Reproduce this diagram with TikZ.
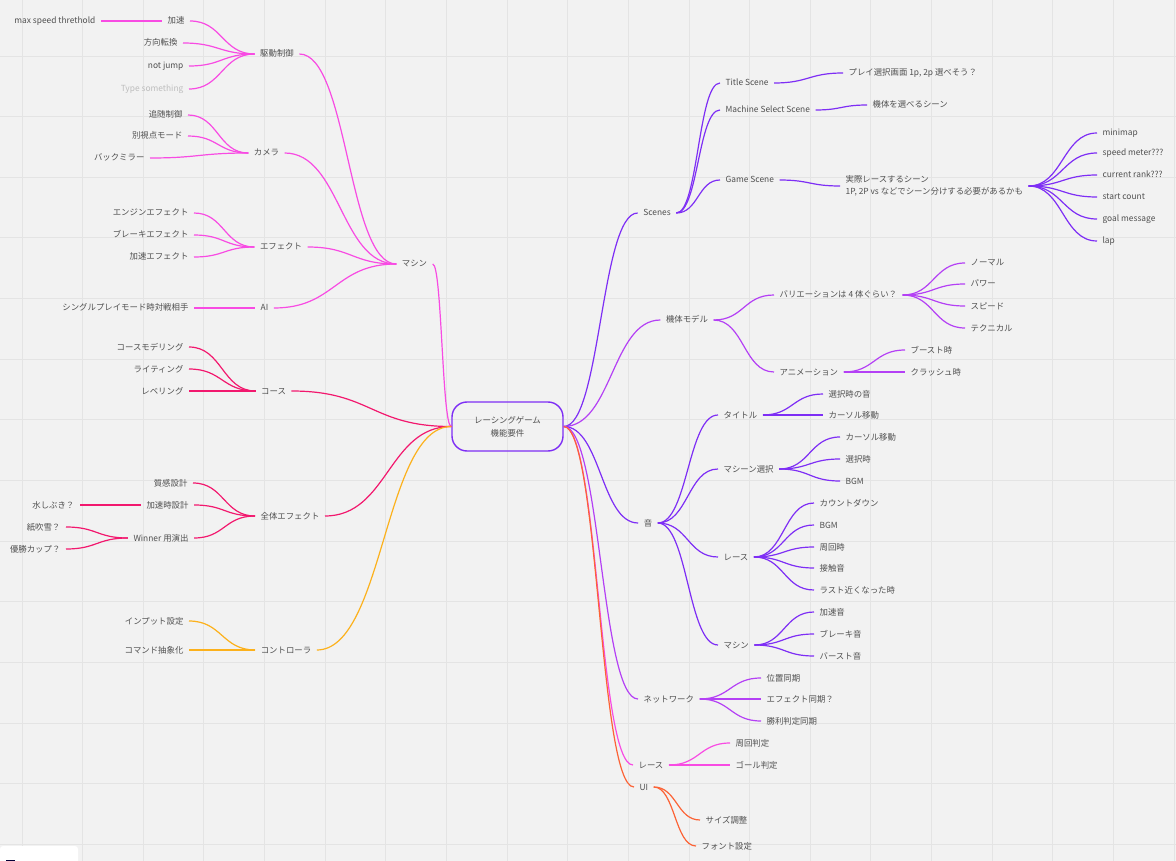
\documentclass[tikz,border=0pt]{standalone}
\usepackage{fontspec}
\setmainfont{Noto Sans CJK JP}
\usetikzlibrary{calc}
\definecolor{bg}{HTML}{F2F2F2}
\definecolor{gridc}{HTML}{E4E4E4}
\definecolor{txt}{HTML}{505050}
\definecolor{ph}{HTML}{BDBDBD}
\definecolor{mag}{HTML}{F84BE3}
\definecolor{crim}{HTML}{F2186E}
\definecolor{orng}{HTML}{FCB11C}
\definecolor{purp}{HTML}{7E2EF5}
\definecolor{viol}{HTML}{B440F5}
\definecolor{ured}{HTML}{FC6336}
\definecolor{navyc}{HTML}{050038}
\newcommand\lk[3]{\draw[#1] let \p1=(#2), \p2=(#3) in (\p1) .. controls ({(\x1+\x2)/2},\y1) and ({(\x1+\x2)/2},\y2) .. (\p2);}
\begin{document}
\begin{tikzpicture}[x=1pt,y=-1pt,line width=1.2pt,
  t/.style={font=\fontsize{8.4}{10}\selectfont, text=txt, inner xsep=5pt, inner ysep=0pt, text height=6.5pt, text depth=0.5pt},
  tm/.style={font=\fontsize{8.4}{12.5}\selectfont, text=txt, inner xsep=5pt, inner ysep=0pt, align=left}]
\useasboundingbox (0,0) rectangle (1176,861);
\fill[bg] (0,0) rectangle (1176,861);
\foreach \i in {0,...,19} \draw[gridc,line width=0.8pt] ({22+60.63*\i},0) -- ({22+60.63*\i},861);
\foreach \i in {0,...,13} \draw[gridc,line width=0.8pt] (0,{56+60.63*\i}) -- (1176,{56+60.63*\i});
\fill[white,rounded corners=3pt] (0,846) rectangle (78,875);
\fill[navyc] (6,859.5) rectangle (15,863);

% root
\node[draw=purp, line width=1.4pt, rounded corners=15pt, minimum width=111pt, minimum height=49pt, align=center, font=\fontsize{8.4}{13}\selectfont, text=txt] (root) at (507.5,426.5) {レーシングゲーム\\機能要件};

% ---------- left: machine ----------
\node[t,anchor=east] (m1) at (101,21) {max speed threthold};
\node[t] (jia) at (176,21) {加速};
\node[t,anchor=east] (m2) at (183,43) {方向転換};
\node[t,anchor=east] (m3) at (189,66) {not jump};
\node[t,anchor=east,text=ph] (m4) at (189,89) {Type something};
\node[t] (kudo) at (277,54) {駆動制御};
\node[t,anchor=east] (k1) at (188,115) {追随制御};
\node[t,anchor=east] (k2) at (188,136) {別視点モード};
\node[t,anchor=east] (k3) at (150,158) {バックミラー};
\node[t] (cam) at (266.5,153) {カメラ};
\node[t,anchor=east] (e1) at (194,213) {エンジンエフェクト};
\node[t,anchor=east] (e2) at (194,235) {ブレーキエフェクト};
\node[t,anchor=east] (e3) at (194,257) {加速エフェクト};
\node[t] (eff) at (281,247) {エフェクト};
\node[t,anchor=east] (a1) at (194,308) {シングルプレイモード時対戦相手};
\node[t] (ai) at (264.5,308) {AI};
\node[t] (mac) at (414.5,264) {マシン};

\lk{mag}{m1.east}{jia.west}
\foreach \c in {jia,m2,m3,m4} {\lk{mag}{\c.east}{kudo.west}}
\foreach \c in {k1,k2,k3} {\lk{mag}{\c.east}{cam.west}}
\foreach \c in {e1,e2,e3} {\lk{mag}{\c.east}{eff.west}}
\lk{mag}{a1.east}{ai.west}
\foreach \c in {kudo,cam,eff,ai} {\lk{mag}{\c.east}{mac.west}}
\lk{mag}{mac.east}{root.west}

% ---------- left: course / effects ----------
\node[t,anchor=east] (c1) at (189,347) {コースモデリング};
\node[t,anchor=east] (c2) at (189,369) {ライティング};
\node[t,anchor=east] (c3) at (189,391) {レベリング};
\node[t] (course) at (273.5,391) {コース};
\node[t,anchor=east] (z1) at (193,483) {質感設計};
\node[t] (z2) at (167.5,505) {加速時設計};
\node[t,anchor=east] (z2a) at (80,505) {水しぶき？};
\node[t] (z3) at (161,538) {Winner 用演出};
\node[t,anchor=east] (z3a) at (66,527) {紙吹雪？};
\node[t,anchor=east] (z3b) at (66,549) {優勝カップ？};
\node[t] (all) at (290,516) {全体エフェクト};

\foreach \c in {c1,c2,c3} {\lk{crim}{\c.east}{course.west}}
\lk{crim}{course.east}{root.west}
\lk{crim}{z2a.east}{z2.west}
\foreach \c in {z3a,z3b} {\lk{crim}{\c.east}{z3.west}}
\foreach \c in {z1,z2,z3} {\lk{crim}{\c.east}{all.west}}
\lk{crim}{all.east}{root.west}

% ---------- left: controller ----------
\node[t,anchor=east] (i1) at (189,621) {インプット設定};
\node[t,anchor=east] (i2) at (189,650) {コマンド抽象化};
\node[t] (ctrl) at (286,650) {コントローラ};
\foreach \c in {i1,i2} {\lk{orng}{\c.east}{ctrl.west}}
\lk{orng}{ctrl.east}{root.west}

% ---------- right: scenes ----------
\node[t] (scenes) at (657,213) {Scenes};
\node[t,anchor=west] (ts) at (720,83) {Title Scene};
\node[t,anchor=west] (ms) at (720,110) {Machine Select Scene};
\node[t,anchor=west] (gs) at (720,180) {Game Scene};
\node[t,anchor=west] (ts1) at (843,73) {プレイ選択画面 1p, 2p 選べそう？};
\node[t,anchor=west] (ms1) at (867,105) {機体を選べるシーン};
\node[tm,anchor=west] (gs1) at (840,186) {実際レースするシーン\\1P, 2P vs などでシーン分けする必要があるかも};
\node[t,anchor=west] (g1) at (1097,133) {minimap};
\node[t,anchor=west] (g2) at (1097,153) {speed meter???};
\node[t,anchor=west] (g3) at (1097,175) {current rank???};
\node[t,anchor=west] (g4) at (1097,197) {start count};
\node[t,anchor=west] (g5) at (1097,219) {goal message};
\node[t,anchor=west] (g6) at (1097,241) {lap};

\lk{purp}{root.east}{scenes.west}
\foreach \c in {ts,ms,gs} {\lk{purp}{scenes.east}{\c.west}}
\lk{purp}{ts.east}{ts1.west}
\lk{purp}{ms.east}{ms1.west}
\lk{purp}{gs.east}{gs1.west}
\foreach \c in {g1,g2,g3,g4,g5,g6} {\lk{purp}{gs1.east}{\c.west}}

% ---------- right: machine model ----------
\node[t] (kitai) at (687,320) {機体モデル};
\node[t,anchor=west] (var) at (774,295) {バリエーションは 4 体ぐらい？};
\node[t,anchor=west] (v1) at (965,263) {ノーマル};
\node[t,anchor=west] (v2) at (965,284) {パワー};
\node[t,anchor=west] (v3) at (965,306) {スピード};
\node[t,anchor=west] (v4) at (965,328) {テクニカル};
\node[t,anchor=west] (anim) at (774,372) {アニメーション};
\node[t,anchor=west] (an1) at (905,350) {ブースト時};
\node[t,anchor=west] (an2) at (905,372) {クラッシュ時};

\lk{viol}{root.east}{kitai.west}
\foreach \c in {var,anim} {\lk{viol}{kitai.east}{\c.west}}
\foreach \c in {v1,v2,v3,v4} {\lk{viol}{var.east}{\c.west}}
\foreach \c in {an1,an2} {\lk{viol}{anim.east}{\c.west}}

% ---------- right: sound ----------
\node[t] (oto) at (648,523) {音};
\node[t,anchor=west] (tit) at (718,415) {タイトル};
\node[t,anchor=west] (t1) at (823,394) {選択時の音};
\node[t,anchor=west] (t2) at (823,415) {カーソル移動};
\node[t,anchor=west] (msel) at (718,469) {マシーン選択};
\node[t,anchor=west] (s1) at (840,437) {カーソル移動};
\node[t,anchor=west] (s2) at (840,459) {選択時};
\node[t,anchor=west] (s3) at (840,481) {BGM};
\node[t,anchor=west] (race) at (718,557) {レース};
\node[t,anchor=west] (r1) at (814,503) {カウントダウン};
\node[t,anchor=west] (r2) at (814,525) {BGM};
\node[t,anchor=west] (r3) at (814,547) {周回時};
\node[t,anchor=west] (r4) at (814,568) {接触音};
\node[t,anchor=west] (r5) at (814,590) {ラスト近くなった時};
\node[t,anchor=west] (mach) at (718,645) {マシン};
\node[t,anchor=west] (q1) at (814,612) {加速音};
\node[t,anchor=west] (q2) at (814,634) {ブレーキ音};
\node[t,anchor=west] (q3) at (814,656) {バースト音};

\lk{purp}{root.east}{oto.west}
\foreach \c in {tit,msel,race,mach} {\lk{purp}{oto.east}{\c.west}}
\foreach \c in {t1,t2} {\lk{purp}{tit.east}{\c.west}}
\foreach \c in {s1,s2,s3} {\lk{purp}{msel.east}{\c.west}}
\foreach \c in {r1,r2,r3,r4,r5} {\lk{purp}{race.east}{\c.west}}
\foreach \c in {q1,q2,q3} {\lk{purp}{mach.east}{\c.west}}

% ---------- right: network ----------
\node[t,anchor=west] (net) at (638,699) {ネットワーク};
\node[t,anchor=west] (n1) at (761,678) {位置同期};
\node[t,anchor=west] (n2) at (761,699) {エフェクト同期？};
\node[t,anchor=west] (n3) at (761,721) {勝利判定同期};
\lk{viol}{root.east}{net.west}
\foreach \c in {n1,n2,n3} {\lk{viol}{net.east}{\c.west}}

% ---------- right: race ----------
\node[t,anchor=west] (race2) at (633,765) {レース};
\node[t,anchor=west] (rr1) at (730,743) {周回判定};
\node[t,anchor=west] (rr2) at (730,765) {ゴール判定};
\lk{mag}{root.east}{race2.west}
\foreach \c in {rr1,rr2} {\lk{mag}{race2.east}{\c.west}}

% ---------- right: UI ----------
\node[t,anchor=west] (ui) at (634,787) {UI};
\node[t,anchor=west] (u1) at (700,820) {サイズ調整};
\node[t,anchor=west] (u2) at (696,846) {フォント設定};
\lk{ured}{root.east}{ui.west}
\foreach \c in {u1,u2} {\lk{ured}{ui.east}{\c.west}}
\end{tikzpicture}
\end{document}
